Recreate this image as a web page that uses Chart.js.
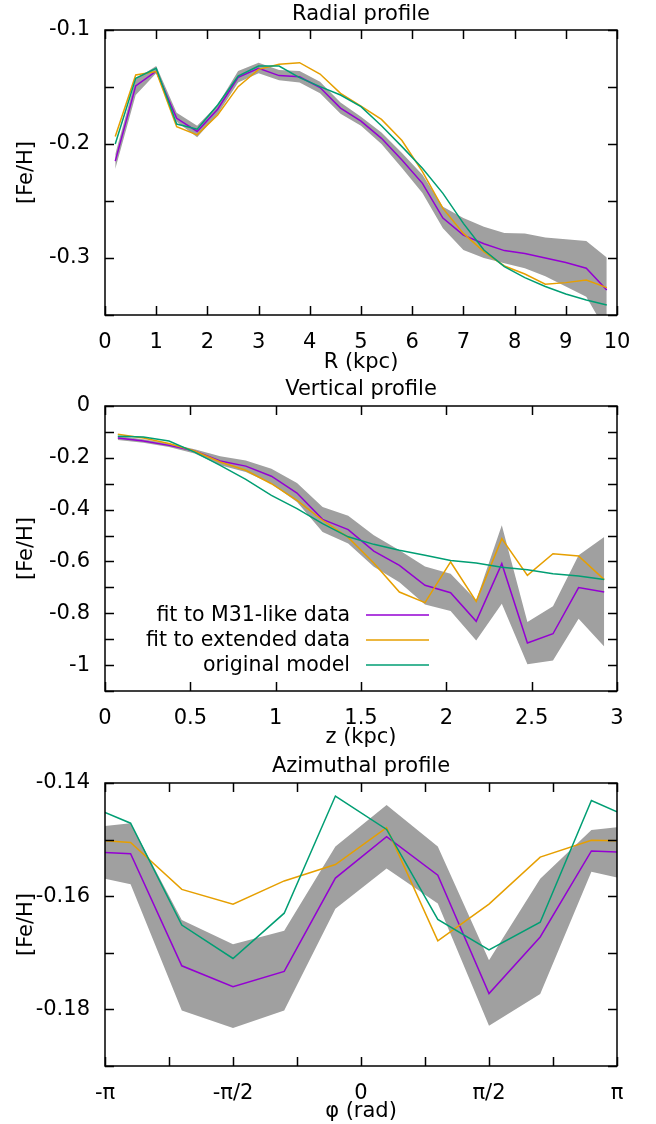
<!DOCTYPE html>
<html>
<head>
<meta charset="utf-8">
<script src="https://cdn.jsdelivr.net/npm/chart.js@4.4.1/dist/chart.umd.min.js"></script>
<style>
  body { margin: 0; background: #fff; }
  canvas { display: block; }
</style>
</head>
<body>
<canvas id="radialChart" width="656" height="375"></canvas>
<canvas id="verticalChart" width="656" height="375"></canvas>
<canvas id="azimuthalChart" width="656" height="374"></canvas>
<script>
// radial profile
const radialR = [0.2, 0.6, 1.0, 1.4, 1.8, 2.2, 2.6, 3.0, 3.4, 3.8, 4.2, 4.6, 5.0, 5.4, 5.8, 6.2, 6.6, 7.0, 7.4, 7.8, 8.2, 8.6, 9.0, 9.4, 9.8];
const radialM31 = [-0.215, -0.149, -0.136, -0.1775, -0.189, -0.1695, -0.1415, -0.1335, -0.140, -0.141, -0.1505, -0.1685, -0.180, -0.195, -0.214, -0.2345, -0.265, -0.280, -0.2875, -0.2935, -0.296, -0.300, -0.304, -0.309, -0.328];
const radialHi = [-0.209, -0.143, -0.1315, -0.1725, -0.184, -0.1655, -0.136, -0.1287, -0.135, -0.136, -0.1455, -0.1635, -0.176, -0.190, -0.208, -0.227, -0.255, -0.265, -0.2725, -0.278, -0.2785, -0.282, -0.2835, -0.285, -0.2995];
const radialLo = [-0.222, -0.157, -0.138, -0.1805, -0.194, -0.174, -0.146, -0.138, -0.144, -0.146, -0.1555, -0.1735, -0.184, -0.200, -0.221, -0.243, -0.274, -0.293, -0.300, -0.3045, -0.309, -0.316, -0.325, -0.334, -0.365];
const radialExt = [-0.1935, -0.1395, -0.1365, -0.1848, -0.192, -0.1746, -0.1497, -0.1345, -0.130, -0.1287, -0.1386, -0.1556, -0.1667, -0.1784, -0.197, -0.2243, -0.2565, -0.2784, -0.2944, -0.307, -0.314, -0.323, -0.3216, -0.3193, -0.326];
const radialOrig = [-0.200, -0.1424, -0.1336, -0.1825, -0.187, -0.1658, -0.1404, -0.1316, -0.1316, -0.1418, -0.1497, -0.157, -0.1673, -0.184, -0.2023, -0.2213, -0.2433, -0.2696, -0.293, -0.3076, -0.3172, -0.325, -0.3316, -0.3368, -0.3412];
const radialXTicks = [0, 1, 2, 3, 4, 5, 6, 7, 8, 9, 10];
const radialXLabels = ['0', '1', '2', '3', '4', '5', '6', '7', '8', '9', '10'];
const radialYTicks = [-0.35, -0.3, -0.25, -0.2, -0.15, -0.1];
const radialYLabels = ['', '-0.3', '', '-0.2', '', '-0.1'];

// vertical profile
const vertZ = [0.075, 0.225, 0.375, 0.525, 0.675, 0.825, 0.975, 1.125, 1.275, 1.425, 1.575, 1.725, 1.875, 2.025, 2.175, 2.325, 2.475, 2.625, 2.775, 2.925];
const vertM31 = [-0.1235, -0.135, -0.152, -0.174, -0.212, -0.232, -0.271, -0.336, -0.4375, -0.477, -0.56, -0.615, -0.692, -0.7206, -0.831, -0.6086, -0.915, -0.879, -0.701, -0.718];
const vertHi = [-0.116, -0.128, -0.145, -0.167, -0.194, -0.21, -0.242, -0.297, -0.39, -0.424, -0.499, -0.557, -0.619, -0.647, -0.75, -0.46, -0.834, -0.773, -0.576, -0.506];
const vertLo = [-0.131, -0.142, -0.158, -0.183, -0.229, -0.255, -0.30, -0.371, -0.4865, -0.531, -0.62, -0.68, -0.766, -0.791, -0.905, -0.763, -0.997, -0.982, -0.821, -0.928];
const vertExt = [-0.109, -0.1235, -0.145, -0.174, -0.216, -0.248, -0.30, -0.364, -0.441, -0.507, -0.606, -0.718, -0.759, -0.602, -0.754, -0.512, -0.654, -0.57, -0.579, -0.67];
const vertOrig = [-0.117, -0.12, -0.135, -0.178, -0.229, -0.283, -0.345, -0.396, -0.454, -0.505, -0.534, -0.557, -0.576, -0.596, -0.606, -0.622, -0.632, -0.647, -0.656, -0.67];
const vertXTicks = [0, 0.5, 1, 1.5, 2, 2.5, 3];
const vertXLabels = ['0', '0.5', '1', '1.5', '2', '2.5', '3'];
const vertYTicks = [-1.1, -1, -0.9, -0.8, -0.7, -0.6, -0.5, -0.4, -0.3, -0.2, -0.1, 0];
const vertYLabels = ['', '-1', '', '-0.8', '', '-0.6', '', '-0.4', '', '-0.2', '', '0'];

// azimuthal profile (phi in units of pi)
const aziPhi = [-1, -0.9, -0.7, -0.5, -0.3, -0.1, 0.1, 0.3, 0.5, 0.7, 0.9, 1];
const aziM31 = [-0.1523, -0.1525, -0.1723, -0.176, -0.1733, -0.1568, -0.1495, -0.1563, -0.1772, -0.1672, -0.152, -0.1522];
const aziHi = [-0.1476, -0.1471, -0.1642, -0.1685, -0.1661, -0.1512, -0.1439, -0.1512, -0.1713, -0.1569, -0.1483, -0.1478];
const aziLo = [-0.1569, -0.1579, -0.1802, -0.1833, -0.1802, -0.1622, -0.1551, -0.1613, -0.1829, -0.1773, -0.1557, -0.1567];
const aziExt = [-0.1502, -0.1505, -0.1588, -0.1614, -0.1573, -0.1544, -0.1479, -0.1679, -0.1614, -0.1531, -0.1501, -0.1502];
const aziOrig = [-0.1452, -0.1471, -0.1651, -0.171, -0.163, -0.1423, -0.1482, -0.1641, -0.1695, -0.1646, -0.1431, -0.1451];
const aziXTicks = [-1, -0.75, -0.5, -0.25, 0, 0.25, 0.5, 0.75, 1];
const aziXLabels = ['-π', '', '-π/2', '', '0', '', 'π/2', '', 'π'];
const aziYTicks = [-0.19, -0.18, -0.17, -0.16, -0.15, -0.14];
const aziYLabels = ['', '-0.18', '', '-0.16', '', '-0.14'];

const seriesNames = ['fit to M31-like data', 'fit to extended data', 'original model'];

Chart.defaults.font.family = "'DejaVu Sans', sans-serif";
Chart.defaults.font.size = 21;
Chart.defaults.color = '#000';

const PURPLE = '#9400d3';
const ORANGE = '#e69f00';
const GREEN = '#009e73';
const BAND = '#a0a0a0';

function toPoints(xs, ys) {
  return xs.map((x, i) => ({ x: x, y: ys[i] }));
}

// border box + inward ticks on all four sides (gnuplot style)
const framePlugin = {
  id: 'frame',
  afterDatasetsDraw(chart) {
    const { ctx, chartArea: a, scales } = chart;
    const len = 9;
    ctx.save();
    ctx.strokeStyle = '#000';
    ctx.lineWidth = 1.5;
    ctx.beginPath();
    scales.x.ticks.forEach(t => {
      const px = Math.round(scales.x.getPixelForValue(t.value)) + 0.5;
      ctx.moveTo(px, a.bottom); ctx.lineTo(px, a.bottom - len);
      ctx.moveTo(px, a.top); ctx.lineTo(px, a.top + len);
    });
    scales.y.ticks.forEach(t => {
      const py = Math.round(scales.y.getPixelForValue(t.value)) + 0.5;
      ctx.moveTo(a.left, py); ctx.lineTo(a.left + len, py);
      ctx.moveTo(a.right, py); ctx.lineTo(a.right - len, py);
    });
    ctx.stroke();
    ctx.strokeRect(a.left, a.top, a.right - a.left, a.bottom - a.top);
    ctx.restore();
  }
};

// key inside the vertical profile: text right aligned, sample line after it
const keyPlugin = {
  id: 'key',
  afterDatasetsDraw(chart) {
    const { ctx, chartArea: a } = chart;
    const items = chart.data.datasets.filter(d => d.label);
    ctx.save();
    ctx.font = "20.5px 'DejaVu Sans', sans-serif";
    ctx.textAlign = 'right';
    ctx.textBaseline = 'middle';
    items.forEach((d, i) => {
      const y = a.top + 209 + i * 25;
      ctx.fillStyle = '#000';
      ctx.fillText(d.label, a.left + 245, y + 1);
      ctx.strokeStyle = d.borderColor;
      ctx.lineWidth = 1.5;
      ctx.beginPath();
      ctx.moveTo(a.left + 261, y);
      ctx.lineTo(a.left + 324, y);
      ctx.stroke();
    });
    ctx.restore();
  }
};

function makeChart(id, p) {
  const datasets = [
    { label: seriesNames[0], data: toPoints(p.xs, p.m31), borderColor: PURPLE, order: 2 },
    { label: seriesNames[1], data: toPoints(p.xs, p.ext), borderColor: ORANGE, order: 1 },
    { label: seriesNames[2], data: toPoints(p.xs, p.orig), borderColor: GREEN, order: 0 },
    { label: '', data: toPoints(p.xs, p.hi), borderWidth: 0, borderColor: BAND, backgroundColor: BAND, fill: '+1', order: 3 },
    { label: '', data: toPoints(p.xs, p.lo), borderWidth: 0, borderColor: BAND, fill: false, order: 4 }
  ];
  const canvas = document.getElementById(id);
  const H = canvas.height;
  const plugins = [framePlugin];
  if (p.key) plugins.push(keyPlugin);
  return new Chart(canvas, {
    type: 'line',
    data: { datasets },
    plugins,
    options: {
      responsive: false,
      animation: false,
      devicePixelRatio: 1,
      layout: { padding: { top: 0, left: 0, right: 39, bottom: 0 } },
      elements: {
        line: { borderWidth: 1.5, tension: 0 },
        point: { radius: 0 }
      },
      plugins: {
        legend: { display: false },
        tooltip: { enabled: false },
        title: {
          display: true,
          text: p.title,
          fullSize: false,
          color: '#000',
          font: { size: 21, weight: 'normal', lineHeight: 1.2 },
          padding: { top: p.titleTop, bottom: p.top - p.titleTop - 25.2 }
        }
      },
      scales: {
        x: {
          type: 'linear',
          min: p.xTicks[0],
          max: p.xTicks[p.xTicks.length - 1],
          grid: { display: false, drawTicks: false },
          border: { display: false },
          afterBuildTicks: s => { s.ticks = p.xTicks.map(v => ({ value: v })); },
          afterFit: s => { s.height = H - p.bottom; },
          ticks: {
            autoSkip: false,
            maxRotation: 0,
            padding: 15,
            callback: (v, i) => p.xLabels[i]
          },
          title: { display: true, text: p.xTitle, font: { size: 21 }, padding: { top: 0, bottom: 0 } }
        },
        y: {
          type: 'linear',
          min: p.yTicks[0],
          max: p.yTicks[p.yTicks.length - 1],
          grid: { display: false, drawTicks: false },
          border: { display: false },
          afterBuildTicks: s => { s.ticks = p.yTicks.map(v => ({ value: v })); },
          afterFit: s => { s.width = 105; },
          ticks: {
            autoSkip: false,
            padding: 15,
            callback: (v, i) => p.yLabels[i]
          },
          title: { display: true, text: '[Fe/H]', font: { size: 21 }, padding: { top: 14, bottom: 0 } }
        }
      }
    }
  });
}

makeChart('radialChart', {
  xs: radialR, m31: radialM31, ext: radialExt, orig: radialOrig, hi: radialHi, lo: radialLo,
  xTicks: radialXTicks, xLabels: radialXLabels, yTicks: radialYTicks, yLabels: radialYLabels,
  title: 'Radial profile', xTitle: 'R (kpc)', top: 30, bottom: 315, titleTop: 2
});

makeChart('verticalChart', {
  xs: vertZ, m31: vertM31, ext: vertExt, orig: vertOrig, hi: vertHi, lo: vertLo,
  xTicks: vertXTicks, xLabels: vertXLabels, yTicks: vertYTicks, yLabels: vertYLabels,
  title: 'Vertical profile', xTitle: 'z (kpc)', top: 31, bottom: 316, titleTop: 2, key: true
});

makeChart('azimuthalChart', {
  xs: aziPhi, m31: aziM31, ext: aziExt, orig: aziOrig, hi: aziHi, lo: aziLo,
  xTicks: aziXTicks, xLabels: aziXLabels, yTicks: aziYTicks, yLabels: aziYLabels,
  title: 'Azimuthal profile', xTitle: 'φ (rad)', top: 33, bottom: 316, titleTop: 4
});
</script>
</body>
</html>
